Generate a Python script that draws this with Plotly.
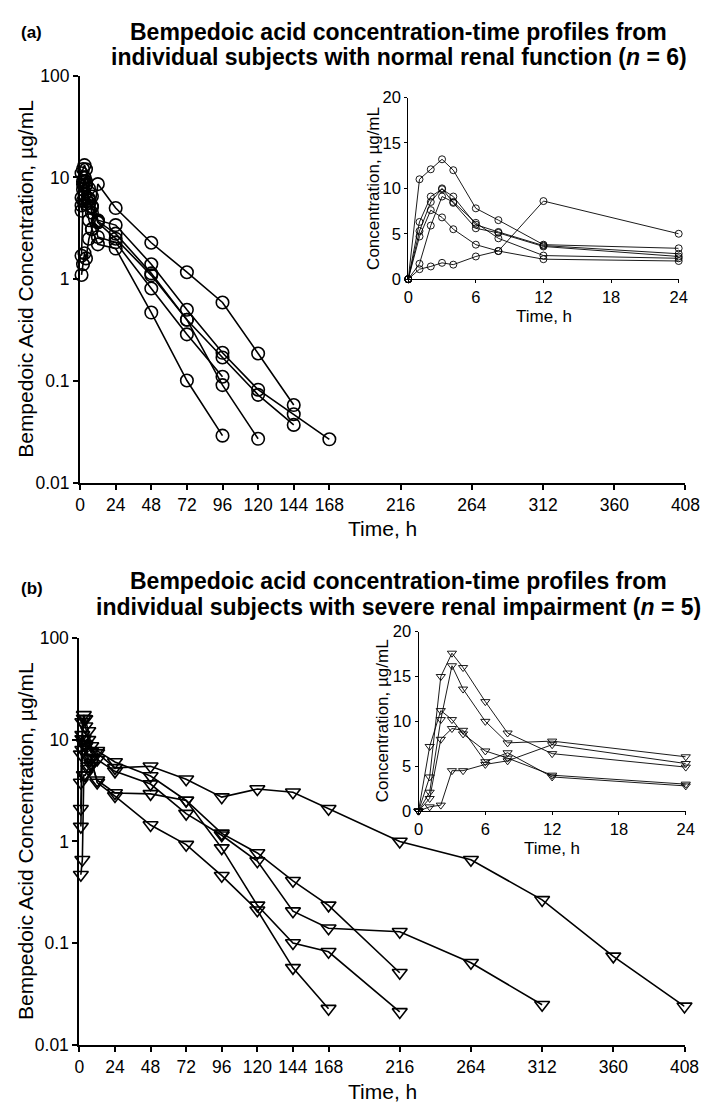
import plotly.graph_objects as go

W, H = 709, 1103

# ---------------- Data ----------------
# Panel (a): normal renal function (n = 6), concentrations in µg/mL
time_a = [0, 1, 2, 3, 4, 6, 8, 12, 24, 48, 72, 96, 120, 144, 168]
subj_a1 = [0, 1.1, 1.4, 1.8, 1.6, 2.5, 3.1, 8.6, 5.0, 2.28, 1.17, 0.59, 0.186, 0.058, None]
subj_a2 = [0, 11.0, 12.1, 13.2, 12.0, 7.8, 6.5, 3.8, 3.4, 1.40, 0.50, 0.189, 0.082, 0.047, 0.0267]
subj_a3 = [0, 6.3, 9.1, 9.9, 9.1, 6.0, 5.2, 3.7, 2.8, 1.14, 0.40, 0.170, 0.073, 0.037, None]
subj_a4 = [0, 5.3, 8.5, 10.0, 8.4, 5.6, 5.1, 3.6, 2.5, 1.09, 0.40, 0.091, 0.027, None, None]
subj_a5 = [0, 1.7, 5.9, 9.1, 8.5, 6.2, 4.5, 2.6, 2.3, 0.81, 0.287, 0.110, None, None, None]
subj_a6 = [0, 4.7, 7.6, 6.8, 5.5, 3.8, 3.1, 2.2, 2.0, 0.47, 0.101, 0.029, None, None, None]
subjects_a = [subj_a1, subj_a2, subj_a3, subj_a4, subj_a5, subj_a6]

# Panel (b): severe renal impairment (n = 5)
time_b = [0, 1, 2, 3, 4, 6, 8, 12, 24, 48, 72, 96, 120, 144, 168, 216, 264, 312, 360, 408]
subj_b1 = [0, 0.47, 0.66, 4.5, 4.5, 5.2, 5.6, 7.4, 5.3, 5.5, 4.1, 2.73, 3.28, 3.05, 2.1, 1.0, 0.66, 0.266, 0.074, 0.0238]
subj_b2 = [0, 2.1, 10.2, 16.2, 13.6, 10.0, 7.6, 7.8, 6.05, 4.4, 2.53, 1.2, 0.77, 0.41, 0.235, 0.051, None, None, None, None]
subj_b3 = [0, 3.8, 15.0, 17.6, 16.0, 12.2, 8.7, 6.4, 4.9, 3.67, 1.88, 1.15, 0.64, 0.206, 0.14, 0.129, 0.064, 0.0247, None, None]
subj_b4 = [0, 7.2, 11.2, 10.2, 8.6, 6.7, 5.9, 4.0, 3.0, 2.94, 2.53, 0.86, 0.235, 0.10, 0.082, 0.021, None, None, None, None]
subj_b5 = [0, 1.4, 8.0, 9.2, 9.0, 5.5, 6.5, 3.8, 2.8, 1.45, 0.93, 0.46, 0.21, 0.057, 0.0226, None, None, None, None, None]
subjects_b = [subj_b1, subj_b2, subj_b3, subj_b4, subj_b5]

# Axis ticks
main_x_ticks = [0, 24, 48, 72, 96, 120, 144, 168, 216, 264, 312, 360, 408]
main_y_ticks = [0.01, 0.1, 1, 10, 100]
main_y_labels = ["0.01", "0.1", "1", "10", "100"]
inset_x_ticks = [0, 6, 12, 18, 24]
inset_y_ticks = [0, 5, 10, 15, 20]

title_a = ["<b>Bempedoic acid concentration-time profiles from</b>",
           "<b>individual subjects with normal renal function (<i>n</i> = 6)</b>"]
title_b = ["<b>Bempedoic acid concentration-time profiles from</b>",
           "<b>individual subjects with severe renal impairment (<i>n</i> = 5)</b>"]

# ---------------- Layout helpers ----------------
FONT = "Arial, Liberation Sans, Helvetica, sans-serif"


def dx(a, b):
    return [a / W, b / W]


def dy(top, bottom):
    return [1 - bottom / H, 1 - top / H]


def px(x):
    return x / W


def py(y):
    return 1 - y / H


fig = go.Figure()


def main_series(times, vals):
    xs, ys = [], []
    for t, v in zip(times, vals):
        if t > 0:
            xs.append(t)
            ys.append(v)
    return xs, ys


def inset_series(times, vals):
    xs, ys = [], []
    for t, v in zip(times, vals):
        if t <= 24:
            xs.append(t)
            ys.append(v)
    return xs, ys


# Panel a main
for s in subjects_a:
    xs, ys = main_series(time_a, s)
    fig.add_trace(go.Scatter(x=xs, y=ys, mode="lines+markers", xaxis="x", yaxis="y",
                             line=dict(color="black", width=1.6),
                             marker=dict(symbol="circle-open", size=12.5, color="black",
                                         line=dict(width=1.6, color="black")),
                             cliponaxis=False, showlegend=False))
# Panel a inset
for s in subjects_a:
    xs, ys = inset_series(time_a, s)
    fig.add_trace(go.Scatter(x=xs, y=ys, mode="lines+markers", xaxis="x2", yaxis="y2",
                             line=dict(color="black", width=0.9),
                             marker=dict(symbol="circle-open", size=7, color="black",
                                         line=dict(width=0.9, color="black")),
                             cliponaxis=False, showlegend=False))
# Panel b main
for s in subjects_b:
    xs, ys = main_series(time_b, s)
    fig.add_trace(go.Scatter(x=xs, y=ys, mode="lines+markers", xaxis="x3", yaxis="y3",
                             line=dict(color="black", width=1.6),
                             marker=dict(symbol="triangle-down-open", size=13, color="black",
                                         line=dict(width=1.6, color="black")),
                             cliponaxis=False, showlegend=False))
# Panel b inset
for s in subjects_b:
    xs, ys = inset_series(time_b, s)
    fig.add_trace(go.Scatter(x=xs, y=ys, mode="lines+markers", xaxis="x4", yaxis="y4",
                             line=dict(color="black", width=0.9),
                             marker=dict(symbol="triangle-down-open", size=8, color="black",
                                         line=dict(width=0.9, color="black")),
                             cliponaxis=False, showlegend=False))

TICK_MAIN = 17.5
TICK_INSET = 16.5

main_x = dict(range=[0, 408], tickvals=main_x_ticks, ticktext=[str(t) for t in main_x_ticks],
              showline=True, linecolor="black", linewidth=2, ticks="outside", ticklen=5,
              tickwidth=2, tickcolor="black", showgrid=False, zeroline=False,
              tickfont=dict(family=FONT, size=TICK_MAIN, color="black"))
main_y = dict(type="log", range=[-2, 2], tickvals=main_y_ticks, ticktext=main_y_labels,
              showline=True, linecolor="black", linewidth=2, ticks="outside", ticklen=5,
              tickwidth=2, tickcolor="black", showgrid=False, zeroline=False,
              tickfont=dict(family=FONT, size=TICK_MAIN, color="black"))
inset_x = dict(range=[0, 24], tickvals=inset_x_ticks, ticktext=[str(t) for t in inset_x_ticks],
               showline=True, linecolor="black", linewidth=1, ticks="outside", ticklen=3,
               tickwidth=1, tickcolor="black", showgrid=False, zeroline=False,
               tickfont=dict(family=FONT, size=TICK_INSET, color="black"))
inset_y = dict(range=[0, 20], tickvals=inset_y_ticks, ticktext=[str(t) for t in inset_y_ticks],
               showline=True, linecolor="black", linewidth=1, ticks="outside", ticklen=3,
               tickwidth=1, tickcolor="black", showgrid=False, zeroline=False,
               tickfont=dict(family=FONT, size=TICK_INSET, color="black"))

fig.update_layout(
    width=W, height=H, autosize=False,
    margin=dict(l=0, r=0, t=0, b=0),
    paper_bgcolor="white", plot_bgcolor="rgba(0,0,0,0)",
    font=dict(family=FONT, color="black"),
    xaxis=dict(main_x, domain=dx(69, 692), anchor="y"),
    yaxis=dict(main_y, domain=dy(58.7, 473.3), anchor="x"),
    xaxis2=dict(inset_x, domain=dx(406.7, 685), anchor="y2"),
    yaxis2=dict(inset_y, domain=dy(81, 266), anchor="x2"),
    xaxis3=dict(main_x, domain=dx(68.3, 691), anchor="y3"),
    yaxis3=dict(main_y, domain=dy(631.7, 1045.6), anchor="x3"),
    xaxis4=dict(inset_x, domain=dx(417.3, 692.3), anchor="y4"),
    yaxis4=dict(inset_y, domain=dy(625, 807.7), anchor="x4"),
)

ann = []


def text(x, y, s, size, angle=0, xanchor="center"):
    ann.append(dict(x=px(x), y=py(y), xref="paper", yref="paper", text=s, showarrow=False,
                    textangle=angle, xanchor=xanchor, yanchor="middle",
                    font=dict(family=FONT, size=size, color="black")))


# Panel labels and titles
text(6, 15, "<b>(a)</b>", 17, xanchor="left")
text(397, 14, title_a[0], 23)
text(397, 40, title_a[1], 23)
text(6, 581, "<b>(b)</b>", 17, xanchor="left")
text(397, 573, title_b[0], 23)
text(397, 600, title_b[1], 23)

# Axis titles
text(13, 266, "Bempedoic Acid Concentration, µg/mL", 21, angle=-90)
text(380, 520, "Time, h", 21)
text(13, 838.6, "Bempedoic Acid Concentration, µg/mL", 21, angle=-90)
text(380, 1093, "Time, h", 21)
text(371, 173.5, "Concentration, µg/mL", 17, angle=-90)
text(546, 304, "Time, h", 17)
text(380, 716, "Concentration, µg/mL", 17, angle=-90)
text(555, 846, "Time, h", 17)

fig.update_layout(annotations=ann)

fig.write_html("out.html")
